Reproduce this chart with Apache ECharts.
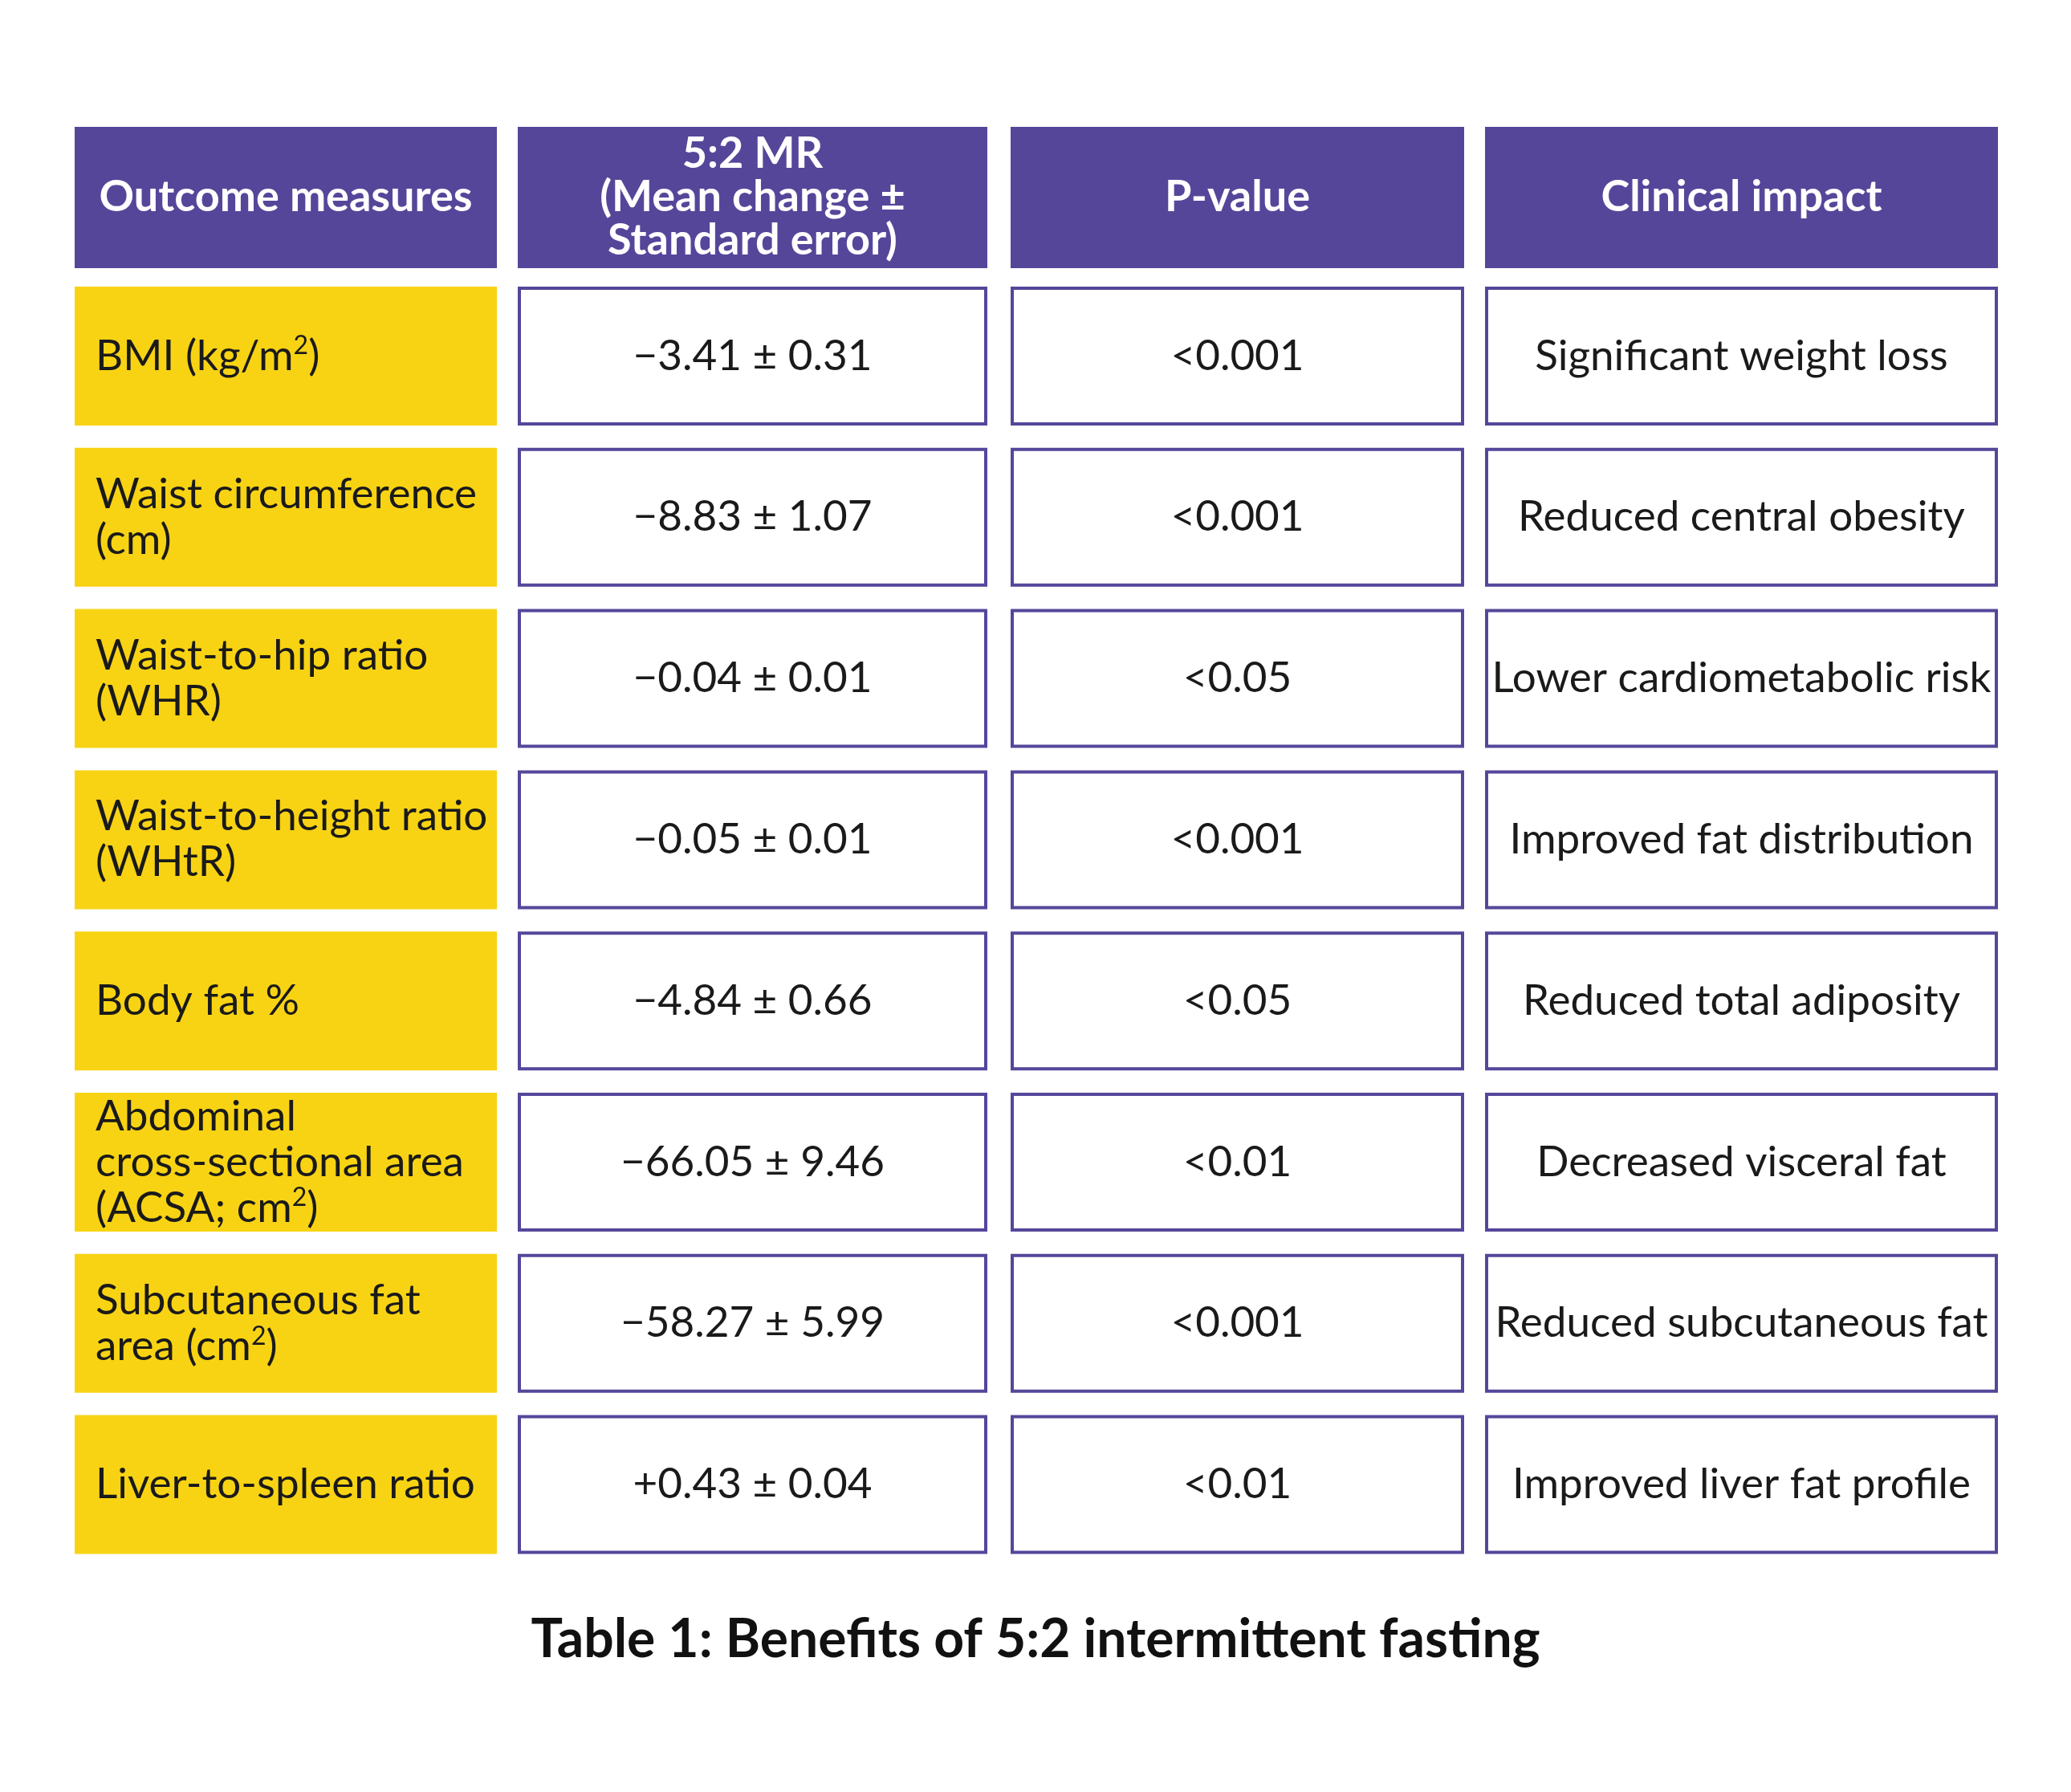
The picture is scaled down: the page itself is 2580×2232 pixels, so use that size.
<!DOCTYPE html>
<html lang="en">
  <head>
    <meta charset="UTF-8" />
    <title>Table 1</title>
    <style>
      html, body { margin: 0; padding: 0; background: #fff; }
      #main { width: 2580px; height: 2232px; }
    </style>
  </head>
  <body>
    <div id="main"></div>
  </body>
  <script src="https://cdn.jsdelivr.net/npm/echarts@6/dist/echarts.min.js"></script>
  <script>
    /* globals echarts */

    var headers = ["Outcome measures", "5:2 MR\n(Mean change ±\nStandard error)", "P-value", "Clinical impact"];
    var outcomes = [
      "BMI (kg/m{sup|2})",
      "Waist circumference\n(cm)",
      "Waist-to-hip ratio\n(WHR)",
      "Waist-to-height ratio\n(WHtR)",
      "Body fat %",
      "Abdominal\ncross-sectional area\n(ACSA; cm{sup|2})",
      "Subcutaneous fat\narea (cm{sup|2})",
      "Liver-to-spleen ratio"
    ];
    var meanChange = ["−3.41 ± 0.31", "−8.83 ± 1.07", "−0.04 ± 0.01", "−0.05 ± 0.01",
      "−4.84 ± 0.66", "−66.05 ± 9.46", "−58.27 ± 5.99", "+0.43 ± 0.04"];
    var pValues = ["<0.001", "<0.001", "<0.05", "<0.001", "<0.05", "<0.01", "<0.001", "<0.01"];
    var impacts = ["Significant weight loss", "Reduced central obesity", "Lower cardiometabolic risk",
      "Improved fat distribution", "Reduced total adiposity", "Decreased visceral fat",
      "Reduced subcutaneous fat", "Improved liver fat profile"];
    var caption = "Table 1: Benefits of 5:2 intermittent fasting";

    // layout (pixels of the page)
    var colEdges = [[93, 619], [645, 1230], [1259, 1824], [1850, 2489]];
    var headerBox = [158, 334];
    var rowTop0 = 357, rowPitch = 200.8, rowH = 173;
    var purple = "#56469a", yellow = "#f8d313";
    var font = "Lato, 'Noto Sans', sans-serif";

    var cells = [];
    headers.forEach(function (h, c) { cells.push([c, -1, h]); });
    [outcomes, meanChange, pValues, impacts].forEach(function (arr, c) {
      arr.forEach(function (t, r) { cells.push([c, r, t]); });
    });

    function renderCell(params, api) {
      var c = api.value(0), r = api.value(1);
      var text = cells[params.dataIndex][2];
      var x0 = colEdges[c][0], x1 = colEdges[c][1];
      var y0 = r < 0 ? headerBox[0] : rowTop0 + r * rowPitch;
      var y1 = r < 0 ? headerBox[1] : y0 + rowH;
      var p0 = api.coord([x0, y0]), p1 = api.coord([x1, y1]);
      var w = p1[0] - p0[0], h = p1[1] - p0[1];
      var header = r < 0, first = c === 0 && !header;
      var fill = header ? purple : (first ? yellow : "#fff");
      var rect = {
        type: "rect",
        shape: first || header ? { x: p0[0], y: p0[1], width: w, height: h }
                               : { x: p0[0] + 2, y: p0[1] + 2, width: w - 4, height: h - 4 },
        style: { fill: fill, stroke: first || header ? null : purple, lineWidth: 4 }
      };
      var label = {
        type: "text",
        style: {
          text: text,
          x: first ? p0[0] + 26 : p0[0] + w / 2,
          y: p0[1] + h / 2,
          align: first ? "left" : "center",
          verticalAlign: "middle",
          fill: header ? "#fff" : "#1a1a1a",
          font: (header ? "bold 54px " : "53px ") + font,
          lineHeight: header ? 54 : 57,
          rich: {
            sup: { fontSize: 32, verticalAlign: "top", padding: [0, 0, 22, 0], fill: "#1a1a1a", fontFamily: font }
          }
        }
      };
      return { type: "group", children: [rect, label] };
    }

    var chart = echarts.init(document.getElementById("main"));
    chart.setOption({
      animation: false,
      title: {
        text: caption,
        left: "center",
        top: 2005,
        textStyle: { fontSize: 66, fontWeight: "bold", color: "#111", fontFamily: font }
      },
      grid: { left: 0, right: 0, top: 0, bottom: 0 },
      xAxis: { type: "value", min: 0, max: 2580, show: false },
      yAxis: { type: "value", min: 0, max: 2232, inverse: true, show: false },
      series: [{
        type: "custom",
        renderItem: renderCell,
        data: cells.map(function (d) { return [d[0], d[1]]; }),
        silent: true
      }]
    });
  </script>
</html>
